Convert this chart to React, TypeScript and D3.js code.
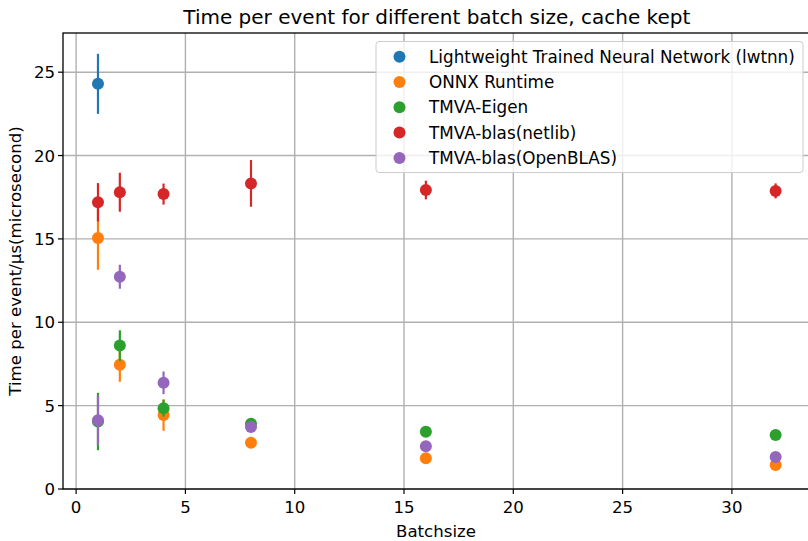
import React, { useEffect } from "react";
import * as d3 from "d3";

const batchSizes = [1, 2, 4, 8, 16, 32];
const seriesNames = [
  "Lightweight Trained Neural Network (lwtnn)",
  "ONNX Runtime",
  "TMVA-Eigen",
  "TMVA-blas(netlib)",
  "TMVA-blas(OpenBLAS)",
];
const seriesColors = ["#1f77b4", "#ff7f0e", "#2ca02c", "#d62728", "#9467bd"];

const lwtnnX = [1];
const lwtnnY = [24.3];
const lwtnnErr = [1.8];

const onnxY = [15.05, 7.45, 4.44, 2.78, 1.84, 1.44];
const onnxErr = [1.9, 1.02, 0.95, 0.1, 0.1, 0.1];

const eigenY = [4.05, 8.6, 4.84, 3.92, 3.43, 3.24];
const eigenErr = [1.72, 0.92, 0.5, 0.1, 0.1, 0.1];

const netlibY = [17.2, 17.8, 17.69, 18.33, 17.93, 17.88];
const netlibErr = [1.15, 1.17, 0.63, 1.4, 0.56, 0.45];

const openblasY = [4.12, 12.73, 6.37, 3.72, 2.57, 1.92];
const openblasErr = [1.5, 0.72, 0.68, 0.1, 0.1, 0.1];

const xTicks = [0, 5, 10, 15, 20, 25, 30];
const yTicks = [0, 5, 10, 15, 20, 25];

const titleText = "Time per event for different batch size, cache kept";
const xLabel = "Batchsize";
const yLabel = "Time per event/μs(microsecond)";

const W = 808;
const H = 541;
const FONT = "DejaVu Sans, Verdana, sans-serif";
const FS = 16.6;

export default function App() {
  useEffect(() => {
    document.body.style.margin = "0";
  }, []);

  const x = d3.scaleLinear().domain([-0.6, 33.6]).range([63, 810.6]);
  const y = d3.scaleLinear().domain([0, 27.35]).range([489, 33]);

  const series = [
    { xs: lwtnnX, ys: lwtnnY, es: lwtnnErr },
    { xs: batchSizes, ys: onnxY, es: onnxErr },
    { xs: batchSizes, ys: eigenY, es: eigenErr },
    { xs: batchSizes, ys: netlibY, es: netlibErr },
    { xs: batchSizes, ys: openblasY, es: openblasErr },
  ];

  const [x0, x1] = x.range();
  const [y0, y1] = y.range();
  const gridColor = "#b0b0b0";

  return (
    <svg width={W} height={H} style={{ display: "block", background: "#fff" }} fontFamily={FONT}>
      <rect x={0} y={0} width={W} height={H} fill="#fff" />
      {/* grid */}
      {xTicks.map((t) => (
        <line key={"gx" + t} x1={x(t)} x2={x(t)} y1={y0} y2={y1} stroke={gridColor} strokeWidth={1.4} />
      ))}
      {yTicks.map((t) => (
        <line key={"gy" + t} x1={x0} x2={x1} y1={y(t)} y2={y(t)} stroke={gridColor} strokeWidth={1.4} />
      ))}
      {/* data */}
      {series.map((s, si) => (
        <g key={"s" + si}>
          {s.xs.map((xv, i) => (
            <g key={i}>
              <line
                x1={x(xv)}
                x2={x(xv)}
                y1={y(s.ys[i] - s.es[i])}
                y2={y(s.ys[i] + s.es[i])}
                stroke={seriesColors[si]}
                strokeWidth={2.2}
              />
              <circle cx={x(xv)} cy={y(s.ys[i])} r={6} fill={seriesColors[si]} />
            </g>
          ))}
        </g>
      ))}
      {/* spines */}
      <rect x={x0} y={y1} width={x1 - x0} height={y0 - y1} fill="none" stroke="#000" strokeWidth={1.3} />
      {/* ticks */}
      {xTicks.map((t) => (
        <g key={"tx" + t}>
          <line x1={x(t)} x2={x(t)} y1={y0} y2={y0 + 5} stroke="#000" strokeWidth={1.2} />
          <text x={x(t)} y={y0 + 24} fontSize={FS} textAnchor="middle" fill="#000">
            {t}
          </text>
        </g>
      ))}
      {yTicks.map((t) => (
        <g key={"ty" + t}>
          <line x1={x0 - 5} x2={x0} y1={y(t)} y2={y(t)} stroke="#000" strokeWidth={1.2} />
          <text x={x0 - 8} y={y(t) + 6} fontSize={FS} textAnchor="end" fill="#000">
            {t}
          </text>
        </g>
      ))}
      {/* labels */}
      <text x={(x0 + x1) / 2} y={24} fontSize={20} textAnchor="middle" fill="#000">
        {titleText}
      </text>
      <text x={436} y={537} fontSize={FS} textAnchor="middle" fill="#000">
        {xLabel}
      </text>
      <text
        transform={`translate(21, ${(y0 + y1) / 2}) rotate(-90)`}
        fontSize={FS}
        textAnchor="middle"
        fill="#000"
      >
        {yLabel}
      </text>
      {/* legend */}
      <g>
        <rect x={376} y={41.5} width={427} height={131} rx={3} fill="#fff" fillOpacity={0.8} stroke="#cccccc" strokeWidth={1} />
        {seriesNames.map((n, i) => (
          <g key={n}>
            <circle cx={399.5} cy={56.7 + i * 25.3} r={6} fill={seriesColors[i]} />
            <text x={429} y={56.7 + i * 25.3 + 6} fontSize={16.8} fill="#000">
              {n}
            </text>
          </g>
        ))}
      </g>
    </svg>
  );
}
